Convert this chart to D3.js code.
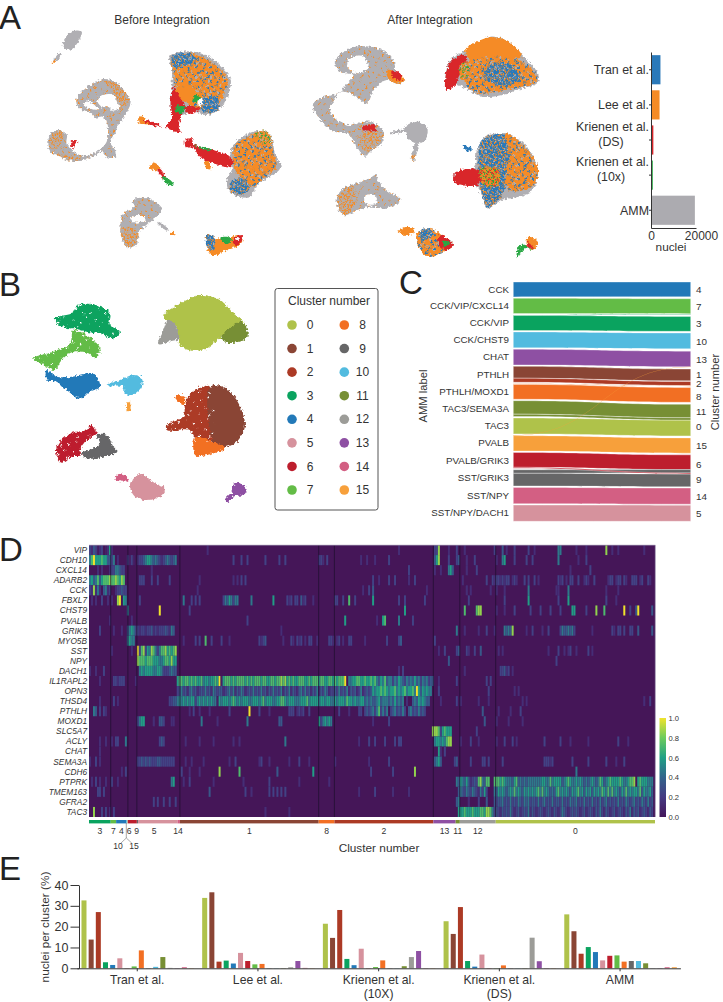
<!DOCTYPE html>
<html>
<head>
  <meta charset="utf-8">
  <script src="https://d3js.org/d3.v7.min.js"></script>
  <title>Integrated interneuron atlas</title>
  <style>
    html, body { margin: 0; padding: 0; background: #fff; }
    text { font-family: "Liberation Sans", Arial, sans-serif; fill: #333; }
    .letter { font-size: 33px; fill: #222; }
    .axis path, .axis line { stroke: #333; }
    .gene { font-size: 8.3px; font-style: italic; text-anchor: end; }
  </style>
</head>
<body>
<svg id="fig" width="723" height="1002"></svg>
<script>
// colours per cluster number, and per dataset
var clusterColors = ["#afc24a","#8a4535","#ac3a25","#0aa35f","#2279b8","#d6929d","#bd1e2d","#63bc46",
                     "#f26f23","#666667","#52bbdf","#778f34","#9c9c98","#8e50a3","#d35f83","#f7a03b"];
var clusterNames = d3.range(16).map(String);

// panel A right, nuclei per dataset
var datasets = ["Tran et al.", "Lee et al.", "Krienen et al.|(DS)", "Krienen et al.|(10x)", "AMM"];
var datasetNuclei = [4200, 3800, 1050, 800, 19500];
var datasetColors = ["#2a79b9", "#f58b25", "#d9262a", "#2aa845", "#acabb0"];

// panel C, left labels and [label, cluster, size, colour cluster]
var ammLabels = ["CCK","CCK/VIP/CXCL14","CCK/VIP","CCK/CHST9","CHAT","PTHLH","PTHLH/MOXD1","TAC3/SEMA3A","TAC3","PVALB","PVALB/GRIK3","SST/GRIK3","SST/NPY","SST/NPY/DACH1"];
var rightClusters = ["4","7","3","10","13","1","2","8","11","0","15","6","9","14","5"];
var rightGaps = [0,6,6,5,7,6,2,4,6,0,6,5,0,4,3];
var alluvia = [
  ["CCK","4",44,4],["CCK/VIP/CXCL14","7",45,7],["CCK/VIP","7",1.5,3],["CCK/VIP","3",44.5,3],
  ["CCK/CHST9","10",47,10],["CHAT","13",46.5,13],["PVALB","13",1,15],
  ["PTHLH","1",35,1],["PTHLH","2",12,2],["PTHLH/MOXD1","2",2,8],["PTHLH/MOXD1","8",44,8],
  ["TAC3/SEMA3A","11",40,11],["TAC3/SEMA3A","0",7,11],["TAC3","0",47,0],
  ["PVALB","15",45.5,15],["PVALB/GRIK3","6",44,6],["PVALB/GRIK3","9",3,6],
  ["SST/GRIK3","6",10,9],["SST/GRIK3","9",38,9],["SST/NPY","14",48,14],["SST/NPY/DACH1","5",48,5]
];

// panel D
var genes = ["VIP","CDH10","CXCL14","ADARB2","CCK","FBXL7","CHST9","PVALB","GRIK3","MYO5B","SST","NPY","DACH1","IL1RAPL2","OPN3","THSD4","PTHLH","MOXD1","SLC5A7","ACLY","CHAT","SEMA3A","CDH6","PTPRK","TMEM163","GFRA2","TAC3"];
var heatOrder = ["3","7","4","10","15","6","9","5","14","1","8","2","13","11","12","0"];
var heatSizes = [10.9,2.7,5.2,.5,.2,4.5,.6,19.8,1.2,69.6,7.9,49.6,11.2,2.1,18,79.9];
var heatSeparators = ["3","15","6","14","1","8","2","11","12"];
var heatLabelNudge = {"6":-1.6,"9":-.4,"5":-1.8,"14":-.4};
// "column:digits" runs, digit = expression 0..9 in reading order, rest of the row is zero
var heatRows = [
 "0:3243123 8:1212 10:6 59:2 155:2 173:33 175:8 180:2 184:3 188:2 203:3 207:4 209:2 213:3 220:3 223:2 235:55 244:2 249:2 259:8 262:2 265:2 278:2",
 "0:5796667664435 14:2 19:3131 24:2334566545432345 40:4345 72:3 76:3 79:3 88:3 95:3 98:3 115:332 119:3 136:2 139:2 143:2 150:3 173:468 180:3 184:34 189:2 193:3 204:2 207:56 213:3 219:3 222:3 235:5 245:2 249:3",
 "4:2 6:2 10:23355433 31:2 160:3 173:2 176:2 180:564 189:2 194:3 241:2 251:3",
 "0:564574677787 12:787687 25:33 27:3 31:3 34:3 40:3 55:2 72:2 74:2 76:3 78:3 142:3 145:2 150:3 153:3 160:2 163:3 187:2 199:3 202:323323233 212:232 218:3 220:3 223:3 225:2 235:323 239:2 241:33 245:3 248:232 253:3 260:233 264:233 268:32 272:333 276:23 280:32",
 "0:3282 4:52 7:452 10:3 13:233433 54:2 137:2 140:3 142:4 169:2 189:2 191:2 201:2 204:2 208:2 220:5 234:22 240:5 259:2 265:2",
 "1:2 3:2 6:3 9:2 11:2 14:89 17:65 25:3 47:5 51:3 53:3 55:3 67:35465 72:355 81:5 92:6 99:323 103:33 106:423 112:2 123:33 127:3 130:7 133:3 142:6 155:3 158:3 168:3 190:3 208:3 220:6 235:3 240:6 259:3 264:2",
 "19:5 35:9 50:3 158:6 188:7 194:788 204:2 208:2 213:3 221:3 226:3 231:3 236:3 242:66 249:3 254:8 258:7 268:9 271:3 274:4 275:9 282:4",
 "10:2 21:2 79:3 128:6 144:2 147:67 155:5 162:3",
 "5:3 12:2 16:2 19:45653 24:32332334 32:232 35:3334 39:32 41:54 96:2 184:5 188:2 195:2 199:3 203:2 208:54548 219:2 222:3 227:2 230:3 236:3 237:5445 241:453 252:2 262:32 265:33 268:3 271:33 275:4 282:4",
 "19:5655 47:2 53:3 55:3 58:7 61:3 66:3 70:2 85:3234 97:2 101:32 104:323 108:2 110:33 114:2 120:332 124:23 127:2 130:33 138:2 149:3 155:34 173:3",
 "11:2 21:2 24:9378 28:3658 32:7535 36:778 39:6767 43:8 175:2 178:3 184:34 189:32 193:3 196:4 205:2 207:2 230:2 235:3 238:2 240:23 244:2 250:3 252:2",
 "24:8777 28:6777 32:6665 36:5677 40:6866 180:4 234:3",
 "0:2 3:2 7:3 25:5656 29:66655 34:6653 38:3345 42:44 155:2 157:3 188:2 206:33423 212:2",
 "5:2 12:332 15:333 23:2 44:67767767676675665667 64:69167776767777676767 84:77677667767787867676 104:67776676777677667767 124:67779055667766 138:766767 144:54657455354654354546453545344 175:2 184:3 199:3 201:3",
 "44:34534245342343534254 64:34423453524354234353 84:43534243534352435243 104:24535342435243542334 124:35343524342352 138:3434656676765667565675667596465655 175:3 200:3 213:2 215:2",
 "5:2 12:3 14:2 40:3344 44:56565656635656565655 64:16566656765656665566 84:65675666556677656665 104:55666756666566566556 124:56665766565566 138:45454456455545464545 158:0200454656544 176:2 184:3 186:2 195:2 200:2 217:2 219:2 278:2 281:3",
 "2:54 5:3 7:32 50:2 52:3 55:2 60:2 70:3 80:9 85:3 90:2 100:333 104:2323 110:3 125:3 130:2 135:3303434535735350345343530453435343 197:4 205:2 211:2 216:3",
 "24:3566 32:2 35:443 41:22 56:5 64:2 79:5 95:44 115:6356565 142:2 150:3 198:4 204:2 210:2 217:2",
 "172:888 175:73 177:6766 181:6 194:3",
 "5:2 8:2 11:2 13:33 18:5 35:343 48:2 55:2 62:2 72:2 75:2 98:5 135:2 140:3 143:3 148:3 153:3 155:33 173:56 175:6565 179:788 186:2 191:3 195:2 204:2 208:3 212:3 214:2 228:3 236:3 241:2 250:2 265:3 270:2",
 "5:2 175:62 178:3",
 "0:2 3:3 5:2 24:3343 28:4343 32:3344 36:3333 40:333 48:2 51:2 57:2 70:2 73:3 85:23 90:2 100:2 105:3 110:2 123:2 140:2 150:3 173:4564 183:34 191:3 197:33 200:3 207:3 228:33323 242:3 250:3 259:3 264:2 268:3",
 "16:2 18:3 46:3 50:2 55:2 65:8 75:7 94:4 112:6 141:3 152:3 163:8 244:5",
 "1:2 3:3 5:2 8:2 11:3 14:2 41:56 47:2 50:3 62:2 77:2 90:3 105:2 120:2 184:5465464 191:2343 195:78 197:5477 203:77767655546745454555 223:55556655756666456765 243:56565454565457645676 263:66676556778067666555",
 "4:33 7:3 60:4 78:3 81:2 90:3 92:3 94:3 96:3 98:3 135:2 143:3 152:2 160:2 185:454354354325363 203:54656545657565465656 223:56757565454675656546 243:56756465646565765757 263:56546575656657465564",
 "32:3 34:3 37:3 40:3 43:3 184:45 190:2 195:3 199:4 203:43445343534354354534 223:43534534353443534354 243:45343534353435345343 263:43534354345343543534",
 "2:8 6:3 8:3 10:2 12:3 88:2 100:2 185:666766676667768875 203:34324343532342343524 223:32343234324323543234 243:34323423432435324323 263:42343243524342343243"
];
var colorbarTicks = [0, .2, .4, .6, .8, 1];

// panel E, percent per cluster 0..15 in each dataset
var studies = ["Tran et al.", "Lee et al.", "Krienen et al.|(10X)", "Krienen et al.|(DS)", "AMM"];
var tranPct = [32.6,13.8,27,2.9,1.6,4.8,.1,.9,8.6,.1,.7,5.4,.2,.1,.5,.1];
var leePct = [33.8,36.5,3.2,3.7,2.3,7.4,3.5,1.9,2.1,.1,.1,.1,.5,3.5,.2,.1];
var k10xPct = [21.4,14.6,28,4.5,1.5,9.4,.1,.6,3.8,.1,.1,1,5.4,8.3,.1,.1];
var kdsPct = [22.6,16.5,29.4,3.5,.8,6.6,.1,.1,1.4,.1,.1,.1,14.7,3.4,.1,.1];
var ammPct = [25.9,17.8,7,10.2,7.8,3.8,6,6.2,3.2,3.5,3.5,2.4,.1,.1,.5,.5];
var studyPct = [tranPct, leePct, k10xPct, kdsPct, ammPct];

// UMAP outlines [fill key, flat x,y list]
var beforeBlobs = [
 ["g",[190,125,215,95,245,95,240,115,215,148,190,142]],["g",[180,158,185,162,165,185,160,182]],["o",[155,190,165,180,168,183,158,192]],
 ["gs",[232,290,262,262,310,237,345,245,375,275,392,305,375,345,352,380,345,400,330,425,345,450,345,470,320,472,305,455,280,468,240,482,190,472,150,452,143,418,170,390,200,403,200,430,225,458,260,468,295,452,320,425,322,372,308,350,285,352,268,335,245,330,230,312]],
 ["w",[252,316,264,302,280,312,293,328,275,328]],["w",[312,284,345,287,362,318,340,332,325,320,302,318,292,300]],
 ["go",[148,440,155,405,175,395,190,415,165,448]],["go",[180,462,220,470,255,475,240,482,190,476]],["go",[300,240,345,250,385,295,365,330,350,300,330,262]],
 ["r",[215,425,232,425,225,432,222,445,215,440]],
 ["o",[415,355,425,345,440,362,485,378,450,374,418,368]],["r",[430,360,470,370,482,380,445,372]],
 ["g",[508,170,560,154,615,165,655,190,692,240,682,290,660,325,625,345,580,335,540,345,515,330,515,250,516,210]],
 ["ob",[512,175,560,160,610,172,650,198,682,240,672,285,650,320,630,335,605,325,575,320,545,290,525,250,520,210]],
 ["bo",[515,170,560,160,590,178,560,195,525,205]],["bo",[610,295,650,290,655,325,625,340,600,325]],
 ["o",[530,265,580,262,590,290,560,305,535,295]],
 ["r",[522,260,538,290,555,320,543,345,537,385,545,395,520,393,498,378,515,355,512,305]],
 ["r",[555,320,600,325,590,335,560,340]],
 ["n",[530,318,556,320,546,338,528,336]],["n",[584,287,600,287,592,305,577,303]],["w",[594,302,606,292,603,318,594,316]],
 ["g",[700,435,730,408,780,392,810,405,825,460,842,500,820,525,775,550,750,590,725,592,690,575,680,540,695,510,690,470]],
 ["ob",[705,440,740,410,780,396,806,408,822,465,830,500,790,535,760,560,720,530,700,495]],
 ["gn",[762,402,800,393,815,432,790,430]],["bo",[690,550,720,535,750,565,720,585,695,575]],
 ["r",[555,420,575,415,582,432,640,450,690,470,700,490,690,502,640,490,600,470,580,445,558,440]],
 ["n",[580,435,640,450,620,450]],["o",[620,480,635,505,625,508,612,485]],
 ["o",[447,505,462,488,478,500,470,510]],["r",[478,505,495,530,490,534,472,510]],["n",[490,530,520,550,518,558,488,540]],
 ["gs",[400,600,440,595,485,625,470,650,445,670,415,700,410,735,380,740,362,690,370,640,400,625]],
 ["go",[362,685,395,680,415,700,405,735,380,742]],["w",[390,655,420,645,440,660,420,667,398,666]],
 ["g",[475,665,505,688,502,692,472,668]],["o",[515,695,525,703,520,708,512,700]],
 ["o",[620,705,650,715,680,715,715,705,728,715,720,735,680,750,640,768,625,755,620,730]],
 ["bo",[620,705,642,710,642,750,622,742]],["n",[665,712,695,715,690,728,670,728]],["r",[700,715,720,705,728,715,715,735,700,730]],["w",[708,716,716,714,712,724]]
];
var afterBlobs = [
 ["gs",[1005,182,1060,142,1110,140,1150,152,1178,178,1185,210,1175,235,1215,240,1195,252,1160,240,1125,265,1100,310,1070,290,1050,280,1025,275,1000,305,990,320,1000,350,1020,365,1045,375,1086,365,1125,370,1150,395,1145,430,1110,455,1095,470,1070,440,1040,400,1000,395,975,375,938,316,960,295,1015,280,1035,258,1060,225,1020,215]],
 ["w",[1045,178,1088,168,1106,198,1075,220,1045,205]],
 ["o",[1160,210,1185,215,1215,240,1190,250,1165,235]],["r",[1175,212,1200,220,1205,240,1180,235]],["r",[1090,380,1125,375,1125,400,1095,395]],["go",[1085,395,1145,405,1130,440,1090,450]],
 ["g",[1216,380,1256,365,1281,380,1276,420,1251,430,1221,410]],["g",[1172,398,1216,388,1216,393,1172,402]],["g",[1245,430,1256,430,1245,470,1238,470]],["go",[1231,465,1246,465,1241,483]],
 ["gs",[1010,600,1030,565,1070,550,1110,535,1126,525,1146,560,1201,600,1186,615,1146,625,1116,620,1086,625,1030,645]],
 ["go",[1010,605,1030,570,1060,560,1070,600,1050,635,1030,645]],["w",[1094,588,1120,584,1132,608,1098,612]],
 ["g",[1336,265,1351,180,1416,145,1471,110,1526,125,1576,175,1616,225,1611,250,1566,265,1506,285,1446,290,1406,270,1366,255,1341,270]],
 ["o",[1396,150,1471,112,1526,125,1566,170,1506,180,1486,200,1426,195,1406,175]],
 ["ob",[1396,190,1486,170,1576,190,1611,240,1516,270,1436,280,1396,250]],["bo",[1480,190,1540,200,1560,240,1490,255,1450,225]],
 ["r",[1336,265,1351,185,1396,165,1401,195,1376,230,1366,255,1341,270]],["gn",[1380,195,1400,185,1405,225,1385,240]],
 ["g",[1431,450,1456,410,1516,400,1576,435,1614,510,1596,570,1556,590,1506,600,1461,625,1446,590,1431,560,1361,545,1366,520,1421,505]],
 ["bo",[1446,420,1516,405,1531,460,1516,560,1486,610,1461,620,1446,580,1436,500]],
 ["ob",[1516,400,1576,440,1614,510,1596,560,1526,570,1516,520,1531,470]],
 ["r",[1361,545,1366,520,1421,505,1446,520,1431,555]],["rn",[1440,510,1490,505,1500,550,1450,555]],["b",[1386,435,1416,445,1406,455]],
 ["o",[1196,695,1221,680,1246,695,1216,705]],
 ["ob",[1251,700,1281,685,1326,705,1361,735,1331,755,1281,770,1251,730]],["bo",[1258,695,1285,685,1300,705,1265,720]],
 ["r",[1320,705,1361,735,1335,750,1315,730]],["n",[1328,722,1350,728,1335,742]],
 ["o",[1586,710,1616,730,1596,750,1580,730]],["n",[1576,735,1596,750,1576,745,1551,775,1556,740]],["r",[1582,725,1600,745,1585,745]]
];
var clusterBlobs = [
 [0,[490,140,560,90,600,75,660,90,700,130,735,165,665,200,620,235,580,243,540,225,530,170]],
 [12,[475,222,490,180,505,150,530,170,536,205,510,214]],[11,[665,200,725,155,740,175,740,205,680,218]],
 [3,[165,145,215,130,235,105,290,105,330,130,330,165,360,185,340,205,300,190,260,185,220,175,205,175,170,160]],
 [7,[100,265,160,245,210,220,220,180,250,190,300,235,285,265,265,250,220,245,190,265,165,300,140,290]],
 [4,[140,300,170,320,215,320,280,310,300,350,270,365,240,385,200,360,170,335,140,330]],
 [10,[360,330,400,315,425,325,425,350,395,375,375,370,370,350,320,345]],[15,[380,405,388,395,392,415,385,425,378,415]],
 [2,[565,380,585,360,630,350,630,520,590,510,570,480,500,480,500,465,550,440,555,405]],
 [1,[630,350,670,350,710,390,735,465,715,510,680,530,640,515,630,480]],
 [8,[585,505,610,505,650,520,675,535,620,555,585,555]],[8,[525,380,555,378,550,405]],
 [6,[170,530,210,490,260,480,275,465,290,490,260,510,240,540,245,555,215,560,185,578,170,555]],
 [9,[290,495,320,495,340,530,352,545,310,560,260,565,245,550,280,535,300,520]],
 [5,[390,645,420,612,440,620,465,640,497,655,480,680,440,690,405,680]],[14,[343,628,362,610,385,630,370,635]],
 [13,[695,650,715,638,740,660,730,675,700,680,680,700,678,685,695,665]]
];
var speckA = [[2,3],[7,1],[12,4],[5,8],[10,10],[1,12],[8,13],[14,7]];
var speckB = [[4,5],[11,2],[8,9],[14,12],[1,8]];

var svg = d3.select("#fig");
var defs = svg.append("defs");

// rough edge for the point clouds
var rough = defs.append("filter").attr("id", "rough").attr("filterUnits", "userSpaceOnUse")
  .attr("x", 0).attr("y", 0).attr("width", 723).attr("height", 1002);
rough.append("feTurbulence").attr("type", "fractalNoise").attr("baseFrequency", .4).attr("numOctaves", 2).attr("seed", 4).attr("result", "n");
rough.append("feDisplacementMap").attr("in", "SourceGraphic").attr("in2", "n").attr("scale", 5).attr("xChannelSelector", "R").attr("yChannelSelector", "G");

// soft streaks in the heatmap
defs.append("filter").attr("id", "soft").attr("filterUnits", "userSpaceOnUse")
  .attr("x", 80).attr("y", 540).attr("width", 590).attr("height", 285)
  .append("feGaussianBlur").attr("stdDeviation", ".55 .25");

var GREY = "#b0afb3", ORANGE = "#f58b25", BLUE = "#2a79b9", RED = "#d9262a", GREEN = "#2aa845";
function speckle(id, base, colorA, colorB, size, r) {
  var p = defs.append("pattern").attr("id", id).attr("patternUnits", "userSpaceOnUse").attr("width", size).attr("height", size);
  p.append("rect").attr("width", size).attr("height", size).attr("fill", base);
  p.selectAll(".a").data(speckA).enter().append("circle").attr("class", "a")
    .attr("cx", function(d) { return d[0] * size / 15; }).attr("cy", function(d) { return d[1] * size / 15; })
    .attr("r", r).attr("fill", colorA);
  p.selectAll(".b").data(speckB).enter().append("circle").attr("class", "b")
    .attr("cx", function(d) { return d[0] * size / 15; }).attr("cy", function(d) { return d[1] * size / 15; })
    .attr("r", r).attr("fill", colorB);
}
speckle("ob", ORANGE, BLUE, GREY, 14, 1.1);
speckle("bo", BLUE, ORANGE, GREY, 9, .85);
speckle("gs", GREY, ORANGE, GREY, 16, .9);
speckle("go", GREY, ORANGE, ORANGE, 8, .85);
speckle("gn", ORANGE, GREEN, GREY, 9, .85);
speckle("rn", ORANGE, GREEN, RED, 8, .85);
speckle("holes", "none", "#fff", "none", 22, .8);
var fills = { g: GREY, o: ORANGE, b: BLUE, r: RED, n: GREEN, w: "#fff",
  ob: "url(#ob)", bo: "url(#bo)", gs: "url(#gs)", go: "url(#go)", gn: "url(#gn)", rn: "url(#rn)" };

function pts(flat) { return d3.range(0, flat.length, 2).map(function(i) { return [flat[i], flat[i + 1]]; }); }
function blobPath(xs, ys) {
  return d3.line().curve(d3.curveCatmullRomClosed.alpha(.5))
    .x(function(d) { return xs(d[0]); }).y(function(d) { return ys(d[1]); });
}
function letter(t, x, y) { svg.append("text").attr("class", "letter").attr("x", x).attr("y", y).text(t); }

// ---------- A
letter("A", -1, 29);
var ax = d3.scaleLinear().domain([0, 2169]).range([0, 723]);
var ay = d3.scaleLinear().domain([0, 810]).range([0, 270]);
var aPath = blobPath(ax, ay);
[beforeBlobs, afterBlobs].forEach(function(blobs) {
  svg.append("g").attr("filter", "url(#rough)").selectAll("path").data(blobs).enter().append("path")
    .attr("d", function(d) { return aPath(pts(d[1])); })
    .attr("fill", function(d) { return fills[d[0]]; });
});
svg.append("text").attr("x", 162).attr("y", 24).attr("text-anchor", "middle").style("font-size", "12px").text("Before Integration");
svg.append("text").attr("x", 430).attr("y", 24).attr("text-anchor", "middle").style("font-size", "12px").text("After Integration");

var nucX = d3.scaleLinear().domain([0, 20000]).range([651, 696]);
var nucY = d3.scaleBand().domain(datasets).range([52, 228]).paddingInner(.17).paddingOuter(.09);
svg.selectAll(".nuc").data(datasets).enter().append("rect").attr("class", "nuc")
  .attr("x", nucX(0)).attr("y", function(d) { return nucY(d); })
  .attr("height", nucY.bandwidth())
  .attr("width", function(d, i) { return nucX(datasetNuclei[i]) - nucX(0); })
  .attr("fill", function(d, i) { return datasetColors[i]; });
svg.append("g").attr("class", "axis").attr("transform", "translate(" + nucX(0) + ",0)")
  .call(d3.axisLeft(nucY).tickSize(2).tickSizeOuter(0).tickFormat(""));
svg.append("g").attr("class", "axis").attr("transform", "translate(0,228)")
  .call(d3.axisBottom(nucX).tickValues([0, 20000]).tickSize(0).tickPadding(3).tickFormat(d3.format("d")))
  .selectAll("text").style("font-size", "12px").style("font-family", "Liberation Sans").attr("dx", function(d) { return d ? 5 : 0; }).attr("fill", "#333");
datasets.forEach(function(d) {
  var parts = d.split("|"), cy = nucY(d) + nucY.bandwidth() / 2;
  svg.append("text").attr("x", 649).attr("y", parts[1] ? cy - 9.5 : cy + 4.5).attr("text-anchor", "end").style("font-size", "12.4px").text(parts[0]);
  if (parts[1]) svg.append("text").attr("x", 611).attr("y", cy + 5.5).attr("text-anchor", "middle").style("font-size", "12.4px").text(parts[1]);
});
svg.append("text").attr("x", 671).attr("y", 251).attr("text-anchor", "middle").style("font-size", "11.8px").text("nuclei");

// ---------- B
letter("B", -1, 296);
var bx = d3.scaleLinear().domain([0, 1140]).range([0, 380]);
var by = d3.scaleLinear().domain([0, 750]).range([270, 520]);
var bPath = blobPath(bx, by);
var bLayer = svg.append("g").attr("filter", "url(#rough)");
bLayer.selectAll(".c").data(clusterBlobs).enter().append("path").attr("class", "c")
  .attr("d", function(d) { return bPath(pts(d[1])); })
  .attr("fill", function(d) { return clusterColors[d[0]]; });
bLayer.selectAll(".h").data(clusterBlobs.filter(function(d) { return [3, 7, 2, 6].indexOf(d[0]) >= 0; })).enter().append("path").attr("class", "h")
  .attr("d", function(d) { return bPath(pts(d[1])); })
  .attr("fill", "url(#holes)");

svg.append("rect").attr("x", 275).attr("y", 288.5).attr("width", 103).attr("height", 221.5).attr("rx", 2.5)
  .attr("fill", "#fff").attr("stroke", "#555").attr("stroke-width", 1);
svg.append("text").attr("x", 329).attr("y", 305).attr("text-anchor", "middle").style("font-size", "12px").text("Cluster number");
var legendRow = d3.scalePoint().domain(d3.range(8)).range([325, 490]);
clusterNames.forEach(function(c, i) {
  var col = i < 8 ? 0 : 1, cy = legendRow(i % 8);
  svg.append("circle").attr("cx", col ? 344.3 : 292).attr("cy", cy).attr("r", 4.8).attr("fill", clusterColors[i]);
  svg.append("text").attr("x", col ? 362.5 : 310).attr("y", cy + 4.2).attr("text-anchor", "middle").style("font-size", "12px").text(c);
});

// ---------- C
letter("C", 399, 294);
var xL = 513.3, xR = 690.7;
var gapL = 4.15, flowTotal = d3.sum(alluvia, function(d) { return d[2]; });
var flowY = d3.scaleLinear().domain([0, flowTotal + gapL * (ammLabels.length - 1)]).range([282, 521.3]);
var flowYR = d3.scaleLinear().domain([0, flowTotal + d3.sum(rightGaps)]).range([282, 521.3]);
var flows = alluvia.map(function(d) { return { l: d[0], r: d[1], v: d[2], c: d[3] }; });
var rightMid = {}, leftMid = {};
var cum = 0;
ammLabels.forEach(function(lab) {
  var start = cum;
  flows.filter(function(f) { return f.l === lab; })
    .sort(function(a, b) { return rightClusters.indexOf(a.r) - rightClusters.indexOf(b.r); })
    .forEach(function(f) { f.y0 = cum; cum += f.v; f.y1 = cum; });
  leftMid[lab] = (start + cum) / 2;
  cum += gapL;
});
cum = 0;
rightClusters.forEach(function(c, i) {
  cum += rightGaps[i];
  var start = cum;
  flows.filter(function(f) { return f.r === c; })
    .sort(function(a, b) { return ammLabels.indexOf(a.l) - ammLabels.indexOf(b.l); })
    .forEach(function(f) { f.z0 = cum; cum += f.v; f.z1 = cum; });
  rightMid[c] = (start + cum) / 2;
});
var flowArea = d3.area().curve(d3.curveBumpX)
  .x(function(d) { return d.x; }).y0(function(d) { return d.a; }).y1(function(d) { return d.b; });
flows.sort(function(a, b) { return b.v - a.v; });
svg.selectAll(".flow").data(flows).enter().append("path").attr("class", "flow")
  .attr("d", function(f) {
    return flowArea([{ x: xL, a: flowY(f.y0), b: flowY(f.y1) }, { x: xR, a: flowYR(f.z0), b: flowYR(f.z1) }]);
  })
  .attr("fill", function(f) { return clusterColors[f.c]; })
  .attr("stroke", function(f) { return f.v <= 1 ? "none" : "#fff"; }).attr("stroke-width", .35);
ammLabels.forEach(function(lab) {
  svg.append("text").attr("x", 509).attr("y", flowY(leftMid[lab]) + 3.3).attr("text-anchor", "end").style("font-size", "9.8px").text(lab);
});
rightClusters.forEach(function(c) {
  var nudge = c === "1" ? -1 : c === "8" ? 1 : 0;
  svg.append("text").attr("x", 696).attr("y", flowYR(rightMid[c]) + 3.6 + nudge).style("font-size", "9.9px").text(c);
});
svg.append("text").attr("transform", "translate(427,396) rotate(-90)").attr("text-anchor", "middle").style("font-size", "11.2px").text("AMM label");
svg.append("text").attr("transform", "translate(719,392) rotate(-90)").attr("text-anchor", "middle").style("font-size", "11.2px").text("Cluster number");

// ---------- D
letter("D", -1, 561);
var heatTotal = d3.sum(heatSizes);
var heatX = d3.scaleLinear().domain([0, heatTotal]).range([89, 655]);
var heatY = d3.scaleBand().domain(genes).range([545, 817]);
var viridis = d3.scaleLinear().domain([0, .2, .4, .6, .8, 1])
  .range(["#441659", "#463a82", "#33648c", "#20a085", "#6ccb5c", "#f0e32c"]);
var heatG = svg.append("g").attr("filter", "url(#soft)");
heatG.append("rect").attr("x", 89).attr("y", 545).attr("width", 566).attr("height", 272).attr("fill", viridis(0));
var heatCells = [];
heatRows.forEach(function(row, r) {
  row.split(" ").forEach(function(run) {
    var bits = run.split(":"), start = +bits[0];
    bits[1].split("").forEach(function(ch, k) {
      if (+ch > 0) heatCells.push({ gene: genes[r], col: start + k, v: Math.pow(+ch / 9, 1.3) });
    });
  });
});
heatG.append("g").selectAll("rect").data(heatCells).enter().append("rect")
  .attr("x", function(d) { return heatX(d.col); })
  .attr("y", function(d) { return heatY(d.gene); })
  .attr("width", heatX(1) - heatX(0))
  .attr("height", heatY.bandwidth())
  .attr("fill", function(d) { return viridis(d.v); });
var heatEdges = {}, run = 0;
heatOrder.forEach(function(c, i) { heatEdges[c] = [run, run + heatSizes[i]]; run += heatSizes[i]; });
svg.selectAll(".sep").data(heatSeparators).enter().append("line").attr("class", "sep")
  .attr("x1", function(d) { return heatX(heatEdges[d][1]); }).attr("x2", function(d) { return heatX(heatEdges[d][1]); })
  .attr("y1", 545).attr("y2", 817).attr("stroke", "#1c0e2c").attr("stroke-width", .7);
svg.append("path").attr("d", "M89,545.3H655.3V817").attr("fill", "none").attr("stroke", "#8a7aa0").attr("stroke-width", .8);
svg.selectAll(".gene").data(genes).enter().append("text").attr("class", "gene")
  .attr("x", 87).attr("y", function(d) { return heatY(d) + 8; }).text(function(d) { return d; });
svg.selectAll(".seg").data(heatOrder).enter().append("rect").attr("class", "seg")
  .attr("x", function(d) { return heatX(heatEdges[d][0]); })
  .attr("width", function(d) { return heatX(heatEdges[d][1]) - heatX(heatEdges[d][0]); })
  .attr("y", 820).attr("height", 3.4)
  .attr("fill", function(d) { return clusterColors[+d]; });
heatOrder.filter(function(c) { return c !== "10" && c !== "15"; }).forEach(function(c) {
  var mid = (heatEdges[c][0] + heatEdges[c][1]) / 2 + (heatLabelNudge[c] || 0);
  svg.append("text").attr("x", heatX(mid)).attr("y", 833.5).attr("text-anchor", "middle").style("font-size", "8.6px").text(c);
});
svg.append("path").attr("d", "M126.3,823V838L121,843M126.3,838L131.7,843").attr("fill", "none").attr("stroke", "#555").attr("stroke-width", .5);
svg.append("text").attr("x", 118).attr("y", 849).attr("text-anchor", "middle").style("font-size", "8.6px").text("10");
svg.append("text").attr("x", 134).attr("y", 849).attr("text-anchor", "middle").style("font-size", "8.6px").text("15");
svg.append("text").attr("x", 379).attr("y", 852).attr("text-anchor", "middle").style("font-size", "11.8px").text("Cluster number");

var barGrad = defs.append("linearGradient").attr("id", "cbar").attr("x1", 0).attr("y1", 1).attr("x2", 0).attr("y2", 0);
colorbarTicks.forEach(function(t) {
  barGrad.append("stop").attr("offset", t).attr("stop-color", viridis(t));
});
svg.append("rect").attr("x", 659.5).attr("y", 718).attr("width", 6.5).attr("height", 99).attr("fill", "url(#cbar)");
var cbY = d3.scaleLinear().domain([0, 1]).range([817, 718]);
svg.append("g").attr("transform", "translate(666,0)")
  .call(d3.axisRight(cbY).tickValues(colorbarTicks).tickSize(0).tickPadding(2.5).tickFormat(d3.format(".1f")))
  .call(function(g) { g.select(".domain").remove(); })
  .selectAll("text").style("font-size", "7.6px").style("font-family", "Liberation Sans").attr("fill", "#333");

// ---------- E
letter("E", -1, 880);
var eX = d3.scaleBand().domain(studies).range([76.9, 680.4]);
var eInner = d3.scaleBand().domain(clusterNames).range([3.5, 118.2]).paddingInner(.3).paddingOuter(.15);
var eY = d3.scaleLinear().domain([0, 40]).range([968.3, 885]);
studies.forEach(function(s, i) {
  svg.append("g").selectAll("rect").data(clusterNames).enter().append("rect")
    .attr("x", function(c) { return eX(s) + eInner(c); })
    .attr("y", function(c) { return eY(studyPct[i][+c]); })
    .attr("width", eInner.bandwidth())
    .attr("height", function(c) { return eY(0) - eY(studyPct[i][+c]); })
    .attr("fill", function(c) { return clusterColors[+c]; });
  var parts = s.split("|"), cx = eX(s) + eX.bandwidth() / 2;
  svg.append("text").attr("x", cx).attr("y", 984).attr("text-anchor", "middle").style("font-size", "12.2px").text(parts[0]);
  if (parts[1]) svg.append("text").attr("x", cx).attr("y", 998).attr("text-anchor", "middle").style("font-size", "12.2px").text(parts[1]);
});
svg.append("g").attr("class", "axis").attr("transform", "translate(79,0)")
  .call(d3.axisLeft(eY).tickValues([0, 10, 20, 30, 40]).tickSize(8.5).tickSizeOuter(0).tickPadding(2))
  .selectAll("text").style("font-size", "12.5px").style("font-family", "Liberation Sans").attr("fill", "#333");
svg.append("g").attr("class", "axis").attr("transform", "translate(0,968.3)")
  .call(d3.axisBottom(eX).tickSize(3).tickSizeOuter(0).tickFormat(""));
svg.append("text").attr("transform", "translate(49,927) rotate(-90)").attr("text-anchor", "middle").style("font-size", "11.8px").text("nuclei per cluster (%)");
</script>
</body>
</html>
